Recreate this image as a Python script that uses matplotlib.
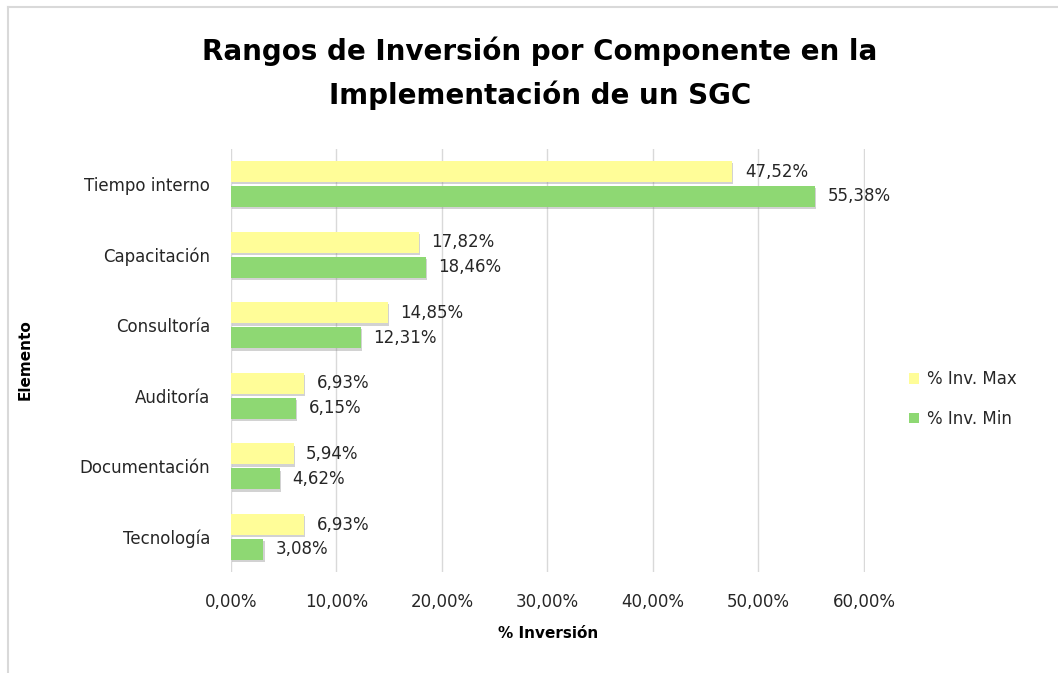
import matplotlib
matplotlib.use("Agg")
import matplotlib.pyplot as plt
import matplotlib.patheffects as pe
from matplotlib.lines import Line2D
from matplotlib.patches import Patch
import numpy as np

# Data
elementos = ["Tiempo interno", "Capacitación", "Consultoría",
             "Auditoría", "Documentación", "Tecnología"]
inv_max = [47.52, 17.82, 14.85, 6.93, 5.94, 6.93]
inv_min = [55.38, 18.46, 12.31, 6.15, 4.62, 3.08]
x_ticks = [0, 10, 20, 30, 40, 50, 60]

color_max = "#FFFD98"
color_min = "#8ED873"

fig = plt.figure(figsize=(10.58, 6.73), dpi=100)
ax = fig.add_axes([231 / 1058, 1 - 572.3 / 673, 634 / 1058, 423.6 / 673])

y = np.arange(len(elementos))
h = 0.30
off = 0.177
shadow = [pe.SimplePatchShadow(offset=(0.8, -1.6), shadow_rgbFace="#808080", alpha=0.35), pe.Normal()]

b_max = ax.barh(y - off, inv_max, height=h, color=color_max, zorder=3)
b_min = ax.barh(y + off, inv_min, height=h, color=color_min, zorder=3)
for b in list(b_max) + list(b_min):
    b.set_path_effects(shadow)

def fmt(v):
    return f"{v:.2f}%".replace(".", ",")

for yi, v in zip(y - off, inv_max):
    ax.annotate(fmt(v), (v, yi), xytext=(9, 0), textcoords="offset points",
                va="center", ha="left", fontsize=12, color="#262626")
for yi, v in zip(y + off, inv_min):
    ax.annotate(fmt(v), (v, yi), xytext=(9, 0), textcoords="offset points",
                va="center", ha="left", fontsize=12, color="#262626")

ax.set_xlim(0, 60.1)
ax.set_ylim(len(elementos) - 0.5, -0.5)
ax.set_yticks(y)
ax.set_yticklabels(elementos, fontsize=12, color="#262626")
ax.set_xticks(x_ticks)
ax.set_xticklabels([fmt(v) for v in x_ticks], fontsize=12, color="#262626")
ax.tick_params(axis="both", length=0)
ax.tick_params(axis="x", pad=15)
ax.tick_params(axis="y", pad=15)
for s in ax.spines.values():
    s.set_visible(False)
ax.grid(axis="x", color="#D9D9D9", linewidth=1, zorder=0)
ax.set_axisbelow(True)

fig.text(540 / 1058, 1 - 73 / 673,
         "Rangos de Inversión por Componente en la\nImplementación de un SGC",
         ha="center", va="center", fontsize=20, fontweight="bold",
         linespacing=1.6, color="black")
fig.text(548 / 1058, 1 - 634 / 673, "% Inversión", ha="center", va="center",
         fontsize=11, fontweight="bold", color="black")
fig.text(25 / 1058, 1 - 360 / 673, "Elemento", ha="center", va="center",
         rotation=90, fontsize=11, fontweight="bold", color="black")

handles = [Patch(facecolor=color_max, label="% Inv. Max"),
           Patch(facecolor=color_min, label="% Inv. Min")]
fig.legend(handles=handles, loc="center left",
           bbox_to_anchor=(894 / 1058, 1 - 399 / 673), frameon=False,
           fontsize=12, handlelength=0.6, handleheight=0.6, handletextpad=0.5,
           labelspacing=1.3, labelcolor="#262626")

# light border along the top and left edges
fig.add_artist(Line2D([7.5 / 1058, 7.5 / 1058], [0, 1 - 6.5 / 673],
                      transform=fig.transFigure, color="#D9D9D9", linewidth=1.5))
fig.add_artist(Line2D([7.5 / 1058, 1], [1 - 6.5 / 673, 1 - 6.5 / 673],
                      transform=fig.transFigure, color="#D9D9D9", linewidth=1.5))

fig.savefig("out.png", dpi=100, facecolor="white")
